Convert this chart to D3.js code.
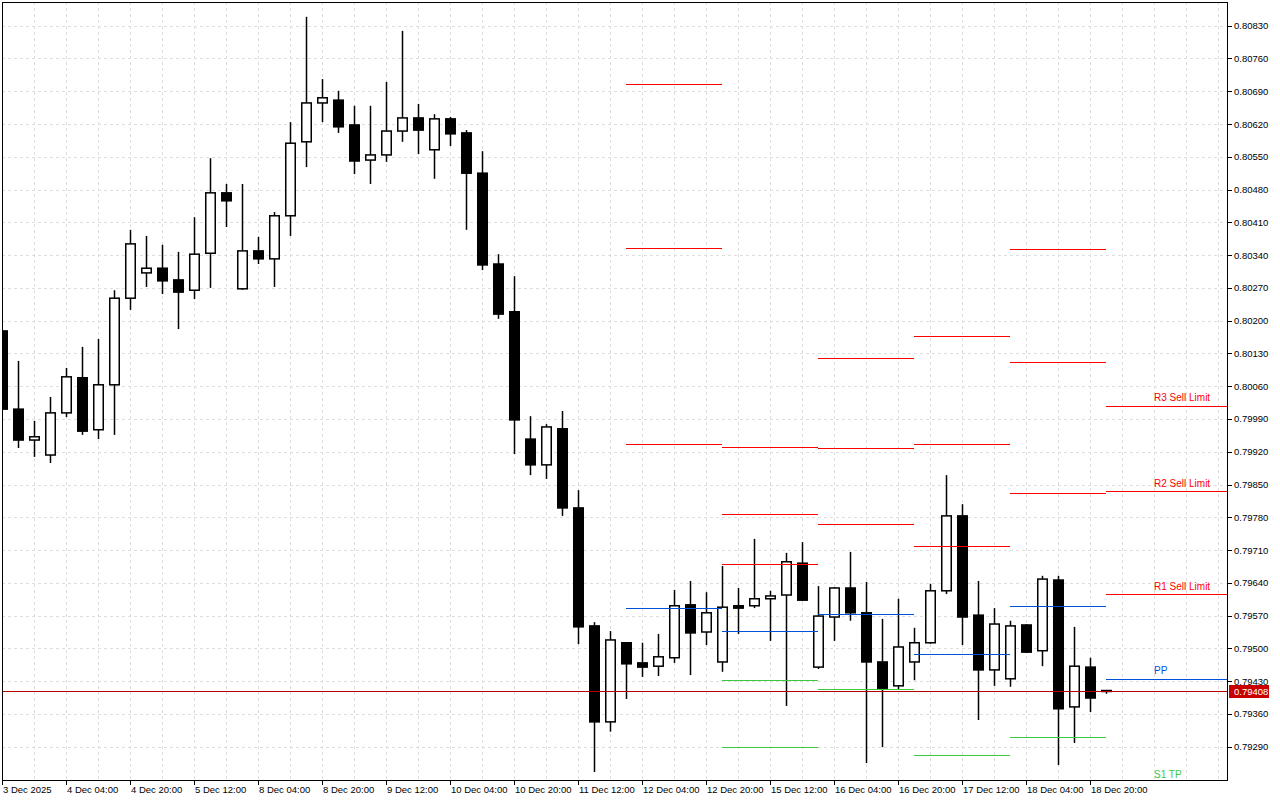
<!DOCTYPE html>
<html>
<head>
<meta charset="utf-8">
<script src="https://cdn.jsdelivr.net/npm/d3@7"></script>
<style>
html, body { margin: 0; padding: 0; background: #ffffff; }
svg { display: block; }
</style>
</head>
<body>
<svg id="chart"></svg>
<script>
var width = 1280,
    height = 800

// H4 bars, 3 Dec 2025 12:00 .. 19 Dec 2025 00:00
var opens = [0.80178, 0.80011, 0.79945, 0.79913, 0.80003, 0.80078, 0.79967, 0.80063, 0.80248, 0.80302,
    0.80312, 0.80287, 0.80265, 0.80344, 0.80473, 0.80268, 0.80349, 0.80332, 0.80424, 0.80582,
    0.80665, 0.80671, 0.80618, 0.80543, 0.80554, 0.80605, 0.80633, 0.80565, 0.80631, 0.80601,
    0.80515, 0.80321, 0.80219, 0.79947, 0.79892, 0.79969, 0.79800, 0.79548, 0.79343, 0.79512,
    0.79469, 0.79462, 0.79480, 0.79593, 0.79535, 0.79471, 0.79591, 0.79591, 0.79606, 0.79614,
    0.79682, 0.79460, 0.79567, 0.79629, 0.79576, 0.79471, 0.79420, 0.79471, 0.79512, 0.79623,
    0.79783, 0.79571, 0.79454, 0.79435, 0.79550, 0.79495, 0.79646, 0.79375, 0.79460, 0.79410];
var highs = [0.80180, 0.80114, 0.79986, 0.80037, 0.80099, 0.80144, 0.80161, 0.80265, 0.80394, 0.80381,
    0.80362, 0.80347, 0.80421, 0.80547, 0.80492, 0.80492, 0.80379, 0.80432, 0.80624, 0.80849,
    0.80716, 0.80691, 0.80659, 0.80659, 0.80710, 0.80819, 0.80663, 0.80641, 0.80635, 0.80607,
    0.80562, 0.80342, 0.80295, 0.79996, 0.79979, 0.80007, 0.79838, 0.79556, 0.79537, 0.79513,
    0.79512, 0.79531, 0.79625, 0.79644, 0.79620, 0.79676, 0.79629, 0.79734, 0.79623, 0.79704,
    0.79727, 0.79633, 0.79631, 0.79706, 0.79642, 0.79563, 0.79606, 0.79544, 0.79638, 0.79870,
    0.79808, 0.79644, 0.79586, 0.79559, 0.79552, 0.79655, 0.79655, 0.79546, 0.79480, 0.79410];
var lows = [0.80009, 0.79928, 0.79909, 0.79896, 0.79994, 0.79956, 0.79947, 0.79956, 0.80223, 0.80272,
    0.80257, 0.80182, 0.80246, 0.80270, 0.80400, 0.80266, 0.80321, 0.80272, 0.80381, 0.80528,
    0.80624, 0.80601, 0.80513, 0.80492, 0.80539, 0.80582, 0.80556, 0.80503, 0.80573, 0.80394,
    0.80308, 0.80204, 0.79915, 0.79870, 0.79862, 0.79783, 0.79509, 0.79236, 0.79322, 0.79392,
    0.79439, 0.79441, 0.79469, 0.79443, 0.79507, 0.79450, 0.79531, 0.79586, 0.79516, 0.79377,
    0.79601, 0.79456, 0.79516, 0.79559, 0.79255, 0.79289, 0.79413, 0.79432, 0.79510, 0.79616,
    0.79507, 0.79347, 0.79420, 0.79418, 0.79490, 0.79462, 0.79251, 0.79298, 0.79364, 0.79403];
var closes = [0.80011, 0.79945, 0.79952, 0.80003, 0.80080, 0.79964, 0.80063, 0.80248, 0.80364, 0.80312,
    0.80285, 0.80261, 0.80342, 0.80473, 0.80456, 0.80349, 0.80332, 0.80424, 0.80579, 0.80665,
    0.80676, 0.80614, 0.80541, 0.80554, 0.80605, 0.80633, 0.80607, 0.80631, 0.80599, 0.80515,
    0.80319, 0.80214, 0.79988, 0.79892, 0.79973, 0.79800, 0.79546, 0.79343, 0.79518, 0.79467,
    0.79460, 0.79482, 0.79591, 0.79533, 0.79576, 0.79588, 0.79586, 0.79606, 0.79612, 0.79685,
    0.79603, 0.79569, 0.79629, 0.79576, 0.79471, 0.79415, 0.79503, 0.79512, 0.79623, 0.79783,
    0.79567, 0.79454, 0.79552, 0.79548, 0.79492, 0.79648, 0.79371, 0.79462, 0.79394, 0.79408];

// one label every 4 bars
var timeLabels = ["3 Dec 2025", "4 Dec 04:00", "4 Dec 20:00", "5 Dec 12:00", "8 Dec 04:00", "8 Dec 20:00",
    "9 Dec 12:00", "10 Dec 04:00", "10 Dec 20:00", "11 Dec 12:00", "12 Dec 04:00", "12 Dec 20:00",
    "15 Dec 12:00", "16 Dec 04:00", "16 Dec 20:00", "17 Dec 12:00", "18 Dec 04:00", "18 Dec 20:00"];
var priceTicks = ["0.80830", "0.80760", "0.80690", "0.80620", "0.80550", "0.80480", "0.80410", "0.80340",
    "0.80270", "0.80200", "0.80130", "0.80060", "0.79990", "0.79920", "0.79850", "0.79780",
    "0.79710", "0.79640", "0.79570", "0.79500", "0.79430", "0.79360", "0.79290"];

// daily pivot levels (first bar of each day)
var pivotDays = ["12 Dec", "15 Dec", "16 Dec", "17 Dec", "18 Dec", "19 Dec"];
var pivotStart = [39, 45, 51, 57, 63, 69];
var r3 = [0.80705, 0.79930, 0.80120, 0.80167, 0.80353, 0.80018];
var r2 = [0.80355, 0.79787, 0.79928, 0.79937, 0.80112, 0.79836];
var r1 = [0.79937, 0.79680, 0.79766, 0.79719, 0.79832, 0.79616];
var pp = [0.79586, 0.79537, 0.79573, 0.79488, 0.79591, 0.79435];
var s1 = [null, 0.79432, 0.79413, 0.79272, 0.79311, 0.79214];
var s2 = [null, 0.79289, null, null, null, null];
var levelNames = ["R3 Sell Limit", "R2 Sell Limit", "R1 Sell Limit", "PP", "S1 TP"];

var bid = 0.79408;

var svg = d3.select("#chart")
svg.attr("width", width)
svg.attr("height", height)

var plot = { left: 2, top: 2, right: 1227, bottom: 780 }
var x = d3.scaleLinear().domain([0, 76.5625]).range([plot.left, plot.right]) // bar index
var y = d3.scaleLinear().domain([0.79290, 0.80830]).range([746.7, 25.7])

function cr(v) { return Math.round(v) + 0.5 }

var RED = "#ff0000", BLUE = "#0050dc", GREEN = "#3cc83c"
var font = "'Liberation Sans', Arial, sans-serif"

svg.append("defs").append("clipPath").attr("id", "clip")
    .append("rect")
    .attr("x", plot.left).attr("y", plot.top)
    .attr("width", plot.right - plot.left).attr("height", plot.bottom - plot.top)

var area = svg.append("g").attr("clip-path", "url(#clip)")

// grid
area.append("g").selectAll("line")
    .data(priceTicks)
    .enter().append("line")
    .attr("x1", plot.left).attr("x2", plot.right)
    .attr("y1", function (d) { return cr(y(+d)) })
    .attr("y2", function (d) { return cr(y(+d)) })
    .attr("stroke", "#dedede")
    .attr("stroke-dasharray", "3,3")
area.append("g").selectAll("line")
    .data(d3.range(2, 77, 2))
    .enter().append("line")
    .attr("x1", function (d) { return cr(x(d)) })
    .attr("x2", function (d) { return cr(x(d)) })
    .attr("y1", plot.top).attr("y2", plot.bottom)
    .attr("stroke", "#dedede")
    .attr("stroke-dasharray", "3,3")

// candles
var bars = d3.range(opens.length)
var candle = area.append("g").selectAll("g")
    .data(bars)
    .enter().append("g")
candle.append("line")
    .attr("x1", function (i) { return cr(x(i)) })
    .attr("x2", function (i) { return cr(x(i)) })
    .attr("y1", function (i) { return y(highs[i]) })
    .attr("y2", function (i) { return y(lows[i]) })
    .attr("stroke", "#000")
    .attr("stroke-width", 1.5)
candle.append("rect")
    .attr("x", function (i) { return cr(x(i)) - 4.75 })
    .attr("width", 9.5)
    .attr("y", function (i) { return y(Math.max(opens[i], closes[i])) })
    .attr("height", function (i) { return Math.max(0.5, Math.abs(y(opens[i]) - y(closes[i]))) })
    .attr("fill", function (i) { return closes[i] >= opens[i] ? "#fff" : "#000" })
    .attr("stroke", "#000")
    .attr("stroke-width", 1.5)

// pivot segments
var levels = [
    { vals: r3, color: RED }, { vals: r2, color: RED }, { vals: r1, color: RED },
    { vals: pp, color: BLUE }, { vals: s1, color: GREEN }, { vals: s2, color: GREEN }
]
var segs = []
levels.forEach(function (lv) {
    pivotDays.forEach(function (day, j) {
        if (lv.vals[j] == null) return
        var last = j == pivotDays.length - 1
        segs.push({
            v: lv.vals[j], color: lv.color,
            x1: x(pivotStart[j]),
            x2: last ? plot.right : x(pivotStart[j] + 6)
        })
    })
})
area.append("g").selectAll("line")
    .data(segs)
    .enter().append("line")
    .attr("x1", function (d) { return d.x1 })
    .attr("x2", function (d) { return d.x2 })
    .attr("y1", function (d) { return cr(y(d.v)) })
    .attr("y2", function (d) { return cr(y(d.v)) })
    .attr("stroke", function (d) { return d.color })
    .attr("stroke-width", 1.2)

// labels on the current day's levels
var lastDay = pivotDays.length - 1
var labelData = [
    { text: levelNames[0], v: r3[lastDay], color: RED },
    { text: levelNames[1], v: r2[lastDay], color: RED },
    { text: levelNames[2], v: r1[lastDay], color: RED },
    { text: levelNames[3], v: pp[lastDay], color: BLUE },
    { text: levelNames[4], v: s1[lastDay], color: GREEN }
]
area.append("g").selectAll("text")
    .data(labelData)
    .enter().append("text")
    .attr("x", x(pivotStart[lastDay] + 3))
    .attr("y", function (d) { return y(d.v) - 4.5 })
    .attr("fill", function (d) { return d.color })
    .style("font-family", font)
    .style("font-size", "10px")
    .text(function (d) { return d.text })

// bid line
area.append("line")
    .attr("x1", plot.left).attr("x2", plot.right)
    .attr("y1", cr(y(bid))).attr("y2", cr(y(bid)))
    .attr("stroke", "#b40000")

// frame
svg.append("rect")
    .attr("x", plot.left + 0.5).attr("y", plot.top + 0.5)
    .attr("width", plot.right - plot.left).attr("height", plot.bottom - plot.top)
    .attr("fill", "none")
    .attr("stroke", "#000")

// price axis
var py = svg.append("g").selectAll("g")
    .data(priceTicks)
    .enter().append("g")
py.append("line")
    .attr("x1", plot.right).attr("x2", plot.right + 5)
    .attr("y1", function (d) { return cr(y(+d)) })
    .attr("y2", function (d) { return cr(y(+d)) })
    .attr("stroke", "#000")
py.append("text")
    .attr("x", plot.right + 7)
    .attr("y", function (d) { return y(+d) + 3.5 })
    .style("font-family", font)
    .style("font-size", "9.5px")
    .attr("fill", "#000")
    .text(function (d) { return d })

svg.append("rect")
    .attr("x", plot.right + 2).attr("y", Math.round(y(bid)) - 6)
    .attr("width", 40).attr("height", 13)
    .attr("fill", "#c80000")
svg.append("text")
    .attr("x", plot.right + 7)
    .attr("y", y(bid) + 3.5)
    .style("font-family", font)
    .style("font-size", "9.5px")
    .attr("fill", "#fff")
    .text(d3.format(".5f")(bid))

// time axis
var tx = svg.append("g").selectAll("g")
    .data(timeLabels)
    .enter().append("g")
tx.append("line")
    .attr("x1", function (d, i) { return cr(x(i * 4)) })
    .attr("x2", function (d, i) { return cr(x(i * 4)) })
    .attr("y1", plot.bottom).attr("y2", plot.bottom + 5)
    .attr("stroke", "#000")
tx.append("text")
    .attr("x", function (d, i) { return x(i * 4) + 1 })
    .attr("y", 793)
    .style("font-family", font)
    .style("font-size", "9.5px")
    .attr("fill", "#000")
    .text(function (d) { return d })
</script>
</body>
</html>
